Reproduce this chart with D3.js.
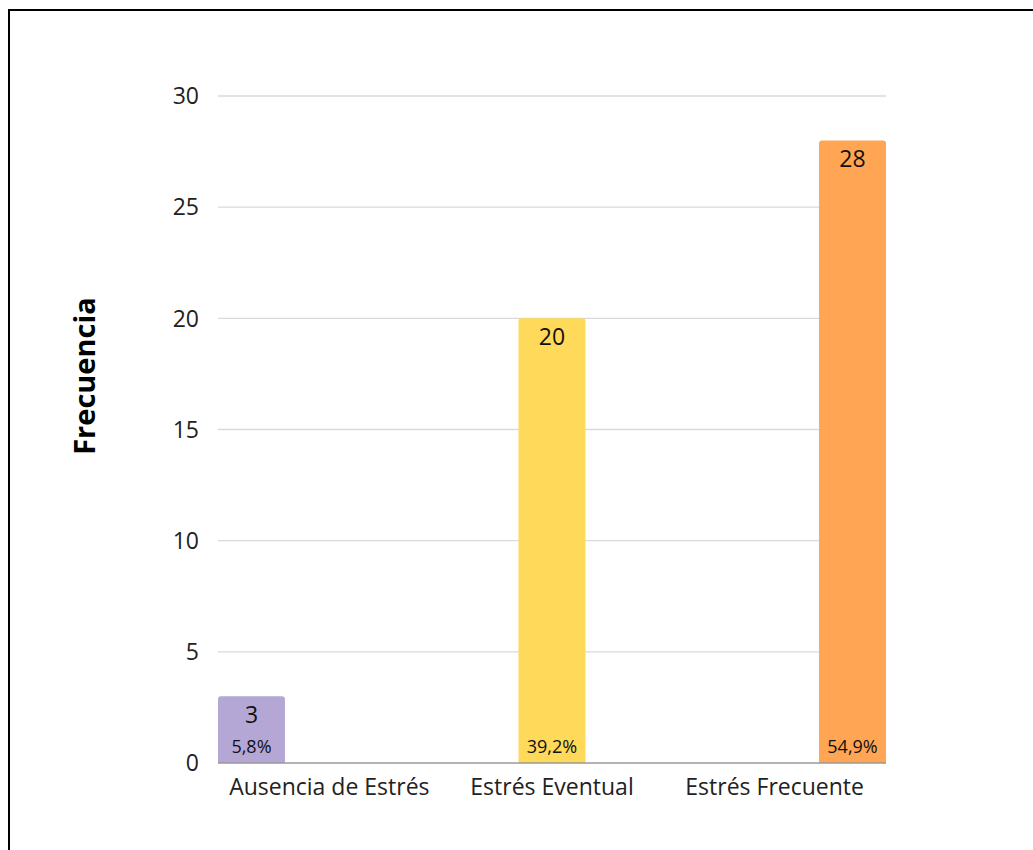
<html>
  <head>
    <style>
      body { margin: 0; background: #fff; }
      svg { display: block; font-family: "Open Sans", sans-serif; }
    </style>
  </head>
  <body>
    <svg></svg>
    <script src="https://d3js.org/d3.v7.min.js"></script>
    <script>
      let width = 1033,
        height = 850;

      // data
      let categories = ["Ausencia de Estrés", "Estrés Eventual", "Estrés Frecuente"];
      let values = [3, 20, 28];
      let percents = ["5,8%", "39,2%", "54,9%"];
      let slots = [0, 1, 2]; // each bar sits in its own series slot of the group
      let yTicks = [0, 5, 10, 15, 20, 25, 30];
      let colors = ["#b4a7d6", "#ffd95a", "#ffa554"];

      let svg = d3.select("svg").attr("width", width).attr("height", height);

      // frame
      svg.append("path")
        .attr("d", "M9," + height + " V10 H" + width)
        .attr("fill", "none")
        .attr("stroke", "#000")
        .attr("stroke-width", 2);

      let x = d3.scaleBand().domain(categories).range([218, 886]).padding(0);
      let inner = d3.scaleBand().domain(slots).range([0, x.bandwidth()]).paddingInner(0.14).paddingOuter(0);
      let y = d3.scaleLinear().domain([0, 30]).range([763, 96]);

      // gridlines
      svg.append("g")
        .selectAll("line")
        .data(yTicks.filter((d) => d > 0))
        .enter()
        .append("line")
        .attr("x1", 218)
        .attr("x2", 886)
        .attr("y1", (d) => y(d))
        .attr("y2", (d) => y(d))
        .attr("stroke", "#d9d9d9")
        .attr("stroke-width", 1.3);

      // y tick labels
      svg.append("g")
        .selectAll("text")
        .data(yTicks)
        .enter()
        .append("text")
        .attr("x", 199)
        .attr("y", (d) => y(d))
        .attr("dy", "0.36em")
        .attr("text-anchor", "end")
        .attr("font-size", 23)
        .attr("fill", "#222")
        .text((d) => d);

      // bars with rounded tops
      let r = 3;
      svg.append("g")
        .selectAll("path")
        .data(categories)
        .enter()
        .append("path")
        .attr("fill", (d, i) => colors[i])
        .attr("d", (d, i) => {
          let x0 = x(d) + inner(slots[i]),
            w = inner.bandwidth(),
            y0 = y(values[i]),
            y1 = y(0);
          return "M" + x0 + "," + y1 +
            " V" + (y0 + r) +
            " Q" + x0 + "," + y0 + " " + (x0 + r) + "," + y0 +
            " H" + (x0 + w - r) +
            " Q" + (x0 + w) + "," + y0 + " " + (x0 + w) + "," + (y0 + r) +
            " V" + y1 + " Z";
        });

      // baseline
      svg.append("line")
        .attr("x1", 218)
        .attr("x2", 886)
        .attr("y1", y(0))
        .attr("y2", y(0))
        .attr("stroke", "#999")
        .attr("stroke-width", 1.3);

      // value labels
      svg.append("g")
        .selectAll("text")
        .data(categories)
        .enter()
        .append("text")
        .attr("x", (d, i) => x(d) + inner(slots[i]) + inner.bandwidth() / 2)
        .attr("y", (d, i) => y(values[i]) + 27)
        .attr("text-anchor", "middle")
        .attr("font-size", 23)
        .attr("fill", "#111")
        .text((d, i) => values[i]);

      // percentage labels
      svg.append("g")
        .selectAll("text")
        .data(categories)
        .enter()
        .append("text")
        .attr("x", (d, i) => x(d) + inner(slots[i]) + inner.bandwidth() / 2)
        .attr("y", y(0) - 10)
        .attr("text-anchor", "middle")
        .attr("font-size", 18)
        .attr("fill", "#111")
        .text((d, i) => percents[i]);

      // category labels
      svg.append("g")
        .selectAll("text")
        .data(categories)
        .enter()
        .append("text")
        .attr("x", (d) => x(d) + x.bandwidth() / 2)
        .attr("y", 795)
        .attr("text-anchor", "middle")
        .attr("font-size", 23)
        .attr("fill", "#222")
        .text((d) => d);

      // axis title
      svg.append("text")
        .attr("transform", "translate(95,376) rotate(-90)")
        .attr("text-anchor", "middle")
        .attr("font-size", 29)
        .attr("font-weight", "bold")
        .attr("fill", "#000")
        .text("Frecuencia");
    </script>
  </body>
</html>
